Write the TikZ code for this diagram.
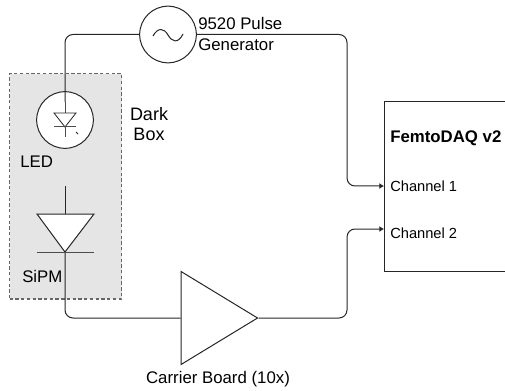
\documentclass[tikz,border=0pt]{standalone}
\usepackage{fontspec}
\setmainfont{Liberation Sans}
\usetikzlibrary{positioning}
\usetikzlibrary{arrows.meta}
\usetikzlibrary{shapes.geometric}
\tikzset{
	wire/.style = {draw = black!85, line width = 0.75pt, rounded corners = 6pt},
	lead/.style = {draw = black!70, line width = 0.75pt},
	part/.style = {fill = white, draw = black!85, line width = 0.75pt, circle, inner sep = 0pt, minimum size = 42.5pt},
	label/.style = {font = \fontsize{12.6}{14}\selectfont, inner sep = 0pt},
	portlabel/.style = {font = \fontsize{11}{13}\selectfont, inner sep = 0pt},
	channel/.style = {-{Latex[length = 3.5pt,width = 4.5pt]}}
}
\begin{document}
\begin{tikzpicture}[x = 0.75pt,y = -0.75pt]
		\useasboundingbox (0,0) rectangle (505,391);
		\node[fill = black!10, draw = black!60, dash pattern = on 2.5pt off 1.8pt, line width = 0.9pt, rectangle, anchor = north west, minimum width = 84pt, minimum height = 169pt, inner sep = 0pt] at (9,73) (darkbox) {};
		\node[fill = white, draw = black!85, line width = 0.75pt, rectangle, anchor = north west, minimum width = 100pt, minimum height = 127.5pt, inner sep = 0pt] at (384,101) (daq) {};
		\node[part] at (168,34.5) (gen) {};
		\node[part] at (65,120) (led) {};
		\node[isosceles triangle, isosceles triangle apex angle = 62.6, fill = white, draw = black!85, line width = 0.75pt, inner sep = 0pt, minimum width = 69.75pt, minimum height = 57.4pt, anchor = lower side] at (180.5,318) (amp) {};
		\coordinate (ch1) at (384,186);
		\coordinate (ch2) at (384,229);
		\coordinate (ledin) at (65,102);
		\coordinate (sipmtop) at (65,186);
		\coordinate (sipmbar) at (65,252);
		% wires
		\draw[wire] (gen.west) -- (65,34.5) -- (ledin);
		\draw[wire,channel] (gen.east) -- (347,34.5) -- (347,186) -- (ch1);
		\draw[wire] (sipmbar) -- (65,318) -- (amp.lower side);
		\draw[wire,channel] (amp.apex) -- (347,318) -- (347,229) -- (ch2);
		% source wave
		\draw[line width = 0.75pt, draw = black!85] (153,36) .. controls (158,27) and (164,28) .. (168,35) .. controls (172,42) and (178,44) .. (183,34);
		% led symbol
		\draw[lead] (ledin) -- (65,113);
		\draw[line width = 0.6pt, draw = black!85] (54,113) -- (76,113) -- (65,127) -- cycle;
		\draw[lead] (54,127) -- (76,127);
		\draw[lead] (65,127) -- (65,137);
		\draw[line width = 0.6pt, draw = black!85] (76,132) -- (78,134);
		% sipm symbol
		\draw[wire] (sipmtop) -- (65,214);
		\draw[fill = white, draw = black!85, line width = 0.75pt] (37,214) -- (94,214) -- (sipmbar) -- cycle;
		\draw[lead] (37,252) -- (94,252);
		% labels
		\node[label, align = left, anchor = west] at (198,34) (genlabel) {9520 Pulse\\[2pt]Generator};
		\node[label, font = \fontsize{13.5}{15}\selectfont, align = center] at (149,124) (boxlabel) {Dark\\[0.5pt]Box};
		\node[label, anchor = west] at (20,162) (ledlabel) {LED};
		\node[label, anchor = west] at (22,276) (sipmlabel) {SiPM};
		\node[label] at (218,379) (amplabel) {Carrier Board (10x)};
		\node[label, anchor = west] at (390,138) (daqlabel) {\bfseries FemtoDAQ v2};
		\node[portlabel, anchor = west] at (390,186) (ch1label) {Channel 1};
		\node[portlabel, anchor = west] at (390,233) (ch2label) {Channel 2};
	\end{tikzpicture}
\end{document}
